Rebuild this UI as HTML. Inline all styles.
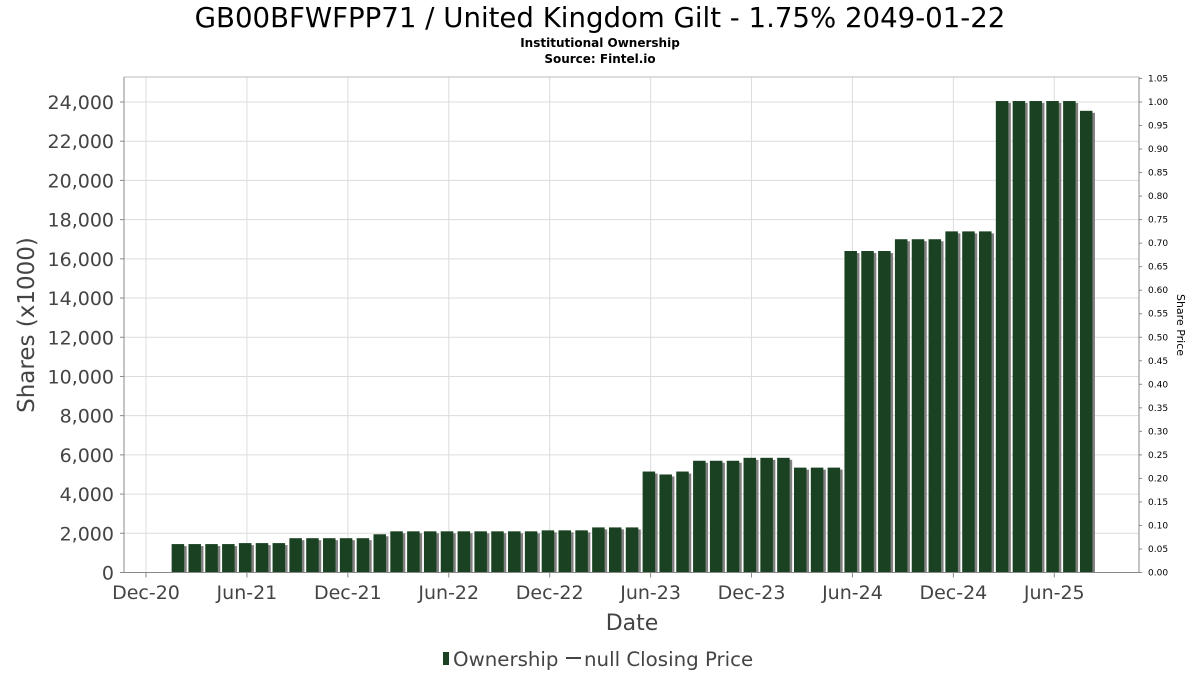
<!DOCTYPE html>
<html><head><meta charset="utf-8">
<style>
html,body{margin:0;padding:0;background:#fff;}
svg text{font-family:"DejaVu Sans","Liberation Sans",sans-serif;}
</style></head>
<body>
<svg id="chart" width="1200" height="675" xmlns="http://www.w3.org/2000/svg">
<rect x="0" y="0" width="1200" height="675" fill="#fff"/>
<text x="600" y="27" font-size="27.6" text-anchor="middle" fill="#000">GB00BFWFPP71 / United Kingdom Gilt - 1.75% 2049-01-22</text>
<text x="600" y="47" font-size="12" font-weight="bold" text-anchor="middle">Institutional Ownership</text>
<text x="600" y="63" font-size="12" font-weight="bold" text-anchor="middle">Source: Fintel.io</text>
<g id="grid"></g>
<g id="bars"></g>
<g id="axes"></g>
<text transform="translate(34,325) rotate(-90)" font-size="23" fill="#444" text-anchor="middle">Shares (x1000)</text>
<text transform="translate(1177,325) rotate(90)" font-size="11" fill="#000" text-anchor="middle">Share Price</text>
<text x="632" y="630" font-size="22" fill="#444" text-anchor="middle">Date</text>
<g>
<rect x="443" y="652" width="6" height="13" fill="#1a4222"/>
<text x="453" y="666" font-size="19.8" fill="#444">Ownership</text>
<line x1="566" y1="658" x2="581" y2="658" stroke="#444" stroke-width="2"/>
<text x="584" y="666" font-size="19.8" fill="#444">null Closing Price</text>
</g>
</svg>
<script>
const tickLabels = ["Dec-20","Jun-21","Dec-21","Jun-22","Dec-22","Jun-23","Dec-23","Jun-24","Dec-24","Jun-25"];
const tickMonths = [0,6,12,18,24,30,36,42,48,54];
const barMonths = [];
for (let m = 2; m <= 56; m++) barMonths.push(m);
const ownership = [1450,1450,1450,1450,1500,1500,1500,1750,1750,1750,1750,1750,1950,2100,2100,2100,2100,2100,2100,2100,2100,2100,2150,2150,2150,2300,2300,2300,5150,5000,5150,5700,5700,5700,5850,5850,5850,5350,5350,5350,16400,16400,16400,17000,17000,17000,17400,17400,17400,24050,24050,24050,24050,24050,23550];
const yTicks = [0,2000,4000,6000,8000,10000,12000,14000,16000,18000,20000,22000,24000];
const priceTicks = [];
for (let i = 0; i <= 21; i++) priceTicks.push(i*0.05);

const L=124,R=1139,T=77,B=572.5;
const x = m => 146 + m*(1054.3-146)/54;
const y = v => B - v*(B-102)/24000;
const yp = p => B - p*(B-102)/1.0;
const NS="http://www.w3.org/2000/svg";
function mk(tag, attrs, parent){const e=document.createElementNS(NS,tag);for(const k in attrs)e.setAttribute(k,attrs[k]);parent.appendChild(e);return e;}
const grid=document.getElementById('grid'), bars=document.getElementById('bars'), axes=document.getElementById('axes');
mk('rect',{x:L,y:T,width:R-L,height:B-T,fill:'#fff',stroke:'none'},grid);
yTicks.forEach((v,i)=>{
  const g=mk('line',{x1:L,x2:R,y1:y(v),y2:y(v),stroke:'#dcdcdc','stroke-width':1},grid);
  
  
  const t=mk('text',{x:114,y:y(v)+7,'font-size':19,fill:'#444','text-anchor':'end'},axes);
  t.textContent=v.toLocaleString('en-US');
  
  
  mk('line',{x1:L-4,x2:L,y1:y(v),y2:y(v),stroke:'#888'},axes);
});
tickMonths.forEach((m,i)=>{
  const g=mk('line',{x1:x(m),x2:x(m),y1:T,y2:B,stroke:'#dcdcdc'},grid);
  
  
  mk('line',{x1:x(m),x2:x(m),y1:B,y2:B+5,stroke:'#888'},axes);
  const t=mk('text',{x:x(m),y:599,'font-size':19,fill:'#444','text-anchor':'middle'},axes);
  t.textContent=tickLabels[i];
  
  
});
barMonths.forEach((m,i)=>{
  const v=ownership[i], xl=x(m)-8;
  const s=mk('rect',{x:xl+2.5,y:y(v)+2,width:12.5,height:B-y(v)-2,fill:'#808080'},bars);
  
  
  const b=mk('rect',{x:xl,y:y(v),width:12.5,height:B-y(v),fill:'#1a4222'},bars);
  
  
});
mk('line',{x1:L,x2:L,y1:T,y2:B,stroke:'#888'},axes);
mk('line',{x1:L,x2:R,y1:B,y2:B,stroke:'#888'},axes);
mk('line',{x1:R,x2:R,y1:T,y2:B,stroke:'#888'},axes);
mk('line',{x1:L,x2:R,y1:T,y2:T,stroke:'#bbb'},axes);
priceTicks.forEach(p=>{
  mk('line',{x1:R,x2:R+3,y1:yp(p),y2:yp(p),stroke:'#888'},axes);
  const t=mk('text',{x:R+9,y:yp(p)+3,'font-size':9,fill:'#000'},axes);
  t.textContent=p.toFixed(2);
  
  
});
</script>
</body></html>
